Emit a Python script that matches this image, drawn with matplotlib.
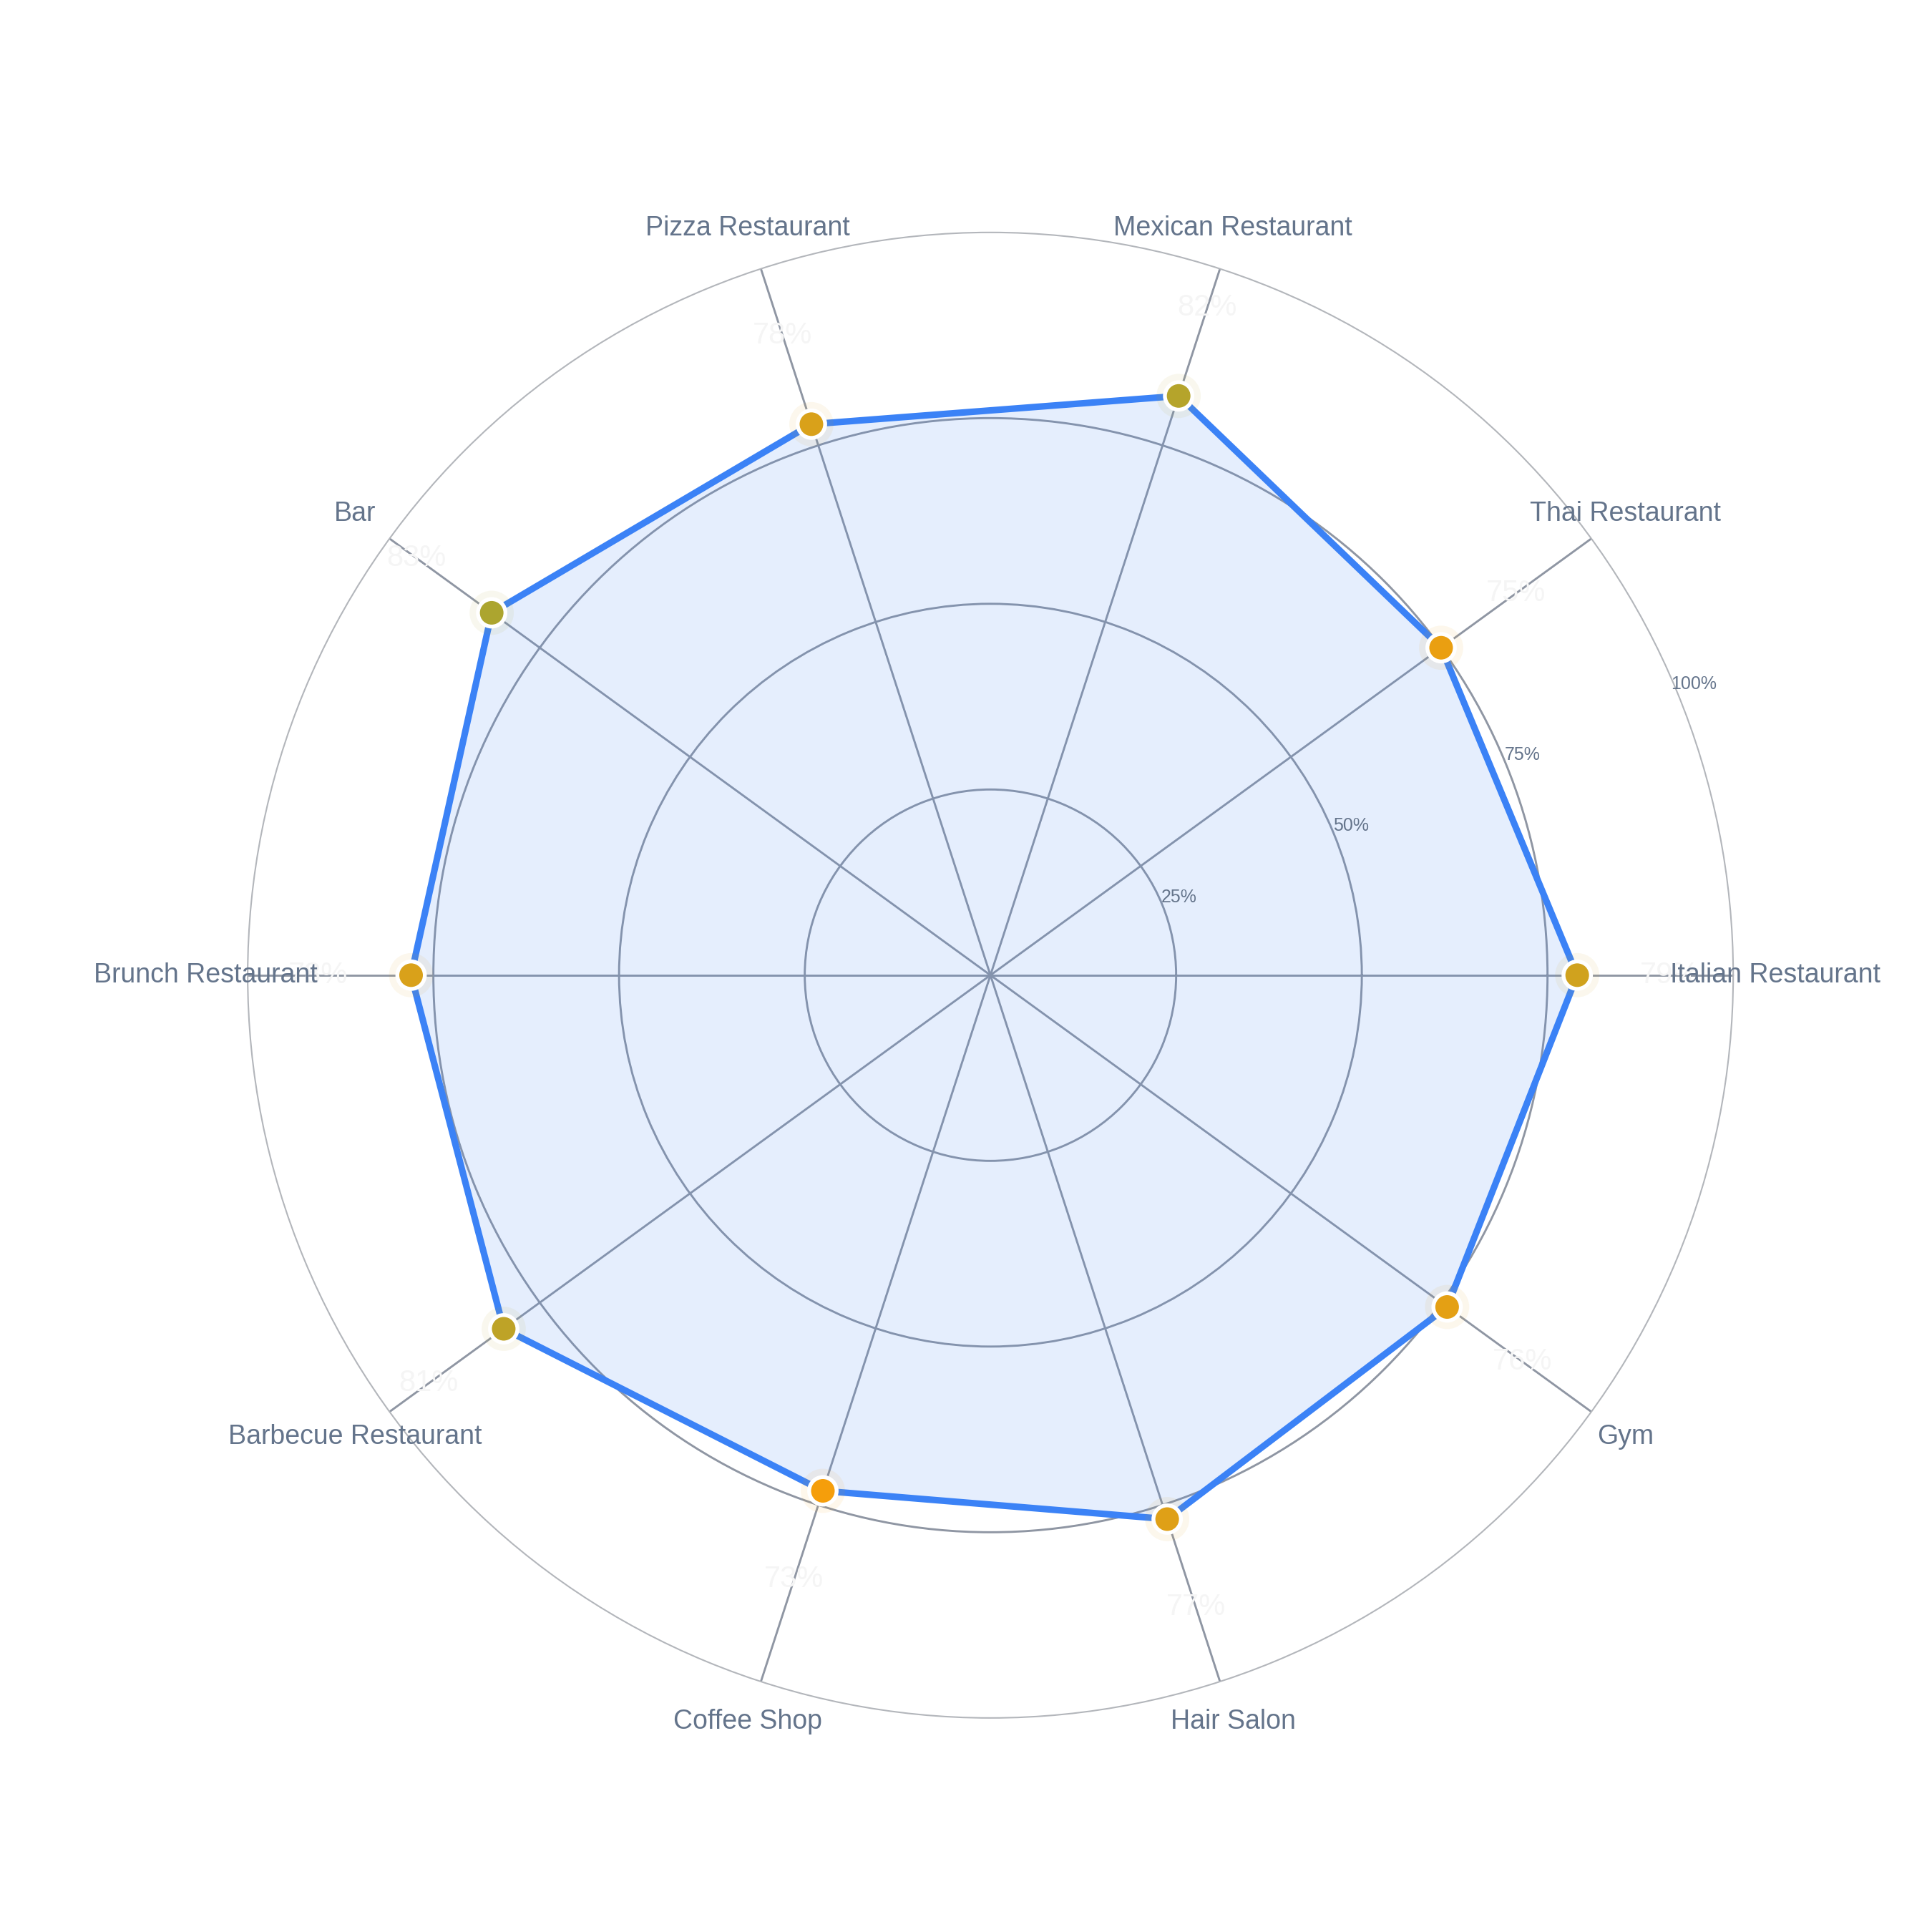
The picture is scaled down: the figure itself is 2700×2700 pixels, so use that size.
import numpy as np
import matplotlib
matplotlib.use("Agg")
import matplotlib.pyplot as plt
from matplotlib.colors import LinearSegmentedColormap, Normalize

plt.rcParams['font.family'] = ['Liberation Sans', 'DejaVu Sans']

# data
categories = ["Italian Restaurant", "Thai Restaurant", "Mexican Restaurant",
              "Pizza Restaurant", "Bar", "Brunch Restaurant",
              "Barbecue Restaurant", "Coffee Shop", "Hair Salon", "Gym"]
scores = [79, 75, 82, 78, 83, 78, 81, 73, 77, 76]
ring_ticks = [25, 50, 75, 100]

n = len(categories)
theta = np.linspace(0, 2 * np.pi, n, endpoint=False)
vals = np.array(scores, dtype=float)

fig = plt.figure(figsize=(9, 9), dpi=300)
fig.patch.set_facecolor("white")
ax = fig.add_axes([0.1282, 0.1108, 0.7689, 0.7689], projection="polar")
ax.set_facecolor("white")
ax.set_ylim(0, 100)
ax.set_theta_offset(0)
ax.set_theta_direction(1)

# grid
ax.set_xticks(theta)
ax.set_xticklabels([])
ax.set_yticks(ring_ticks[:-1])
ax.set_yticklabels([])
ax.grid(True, color="#8f96a3", linewidth=0.7)
ax.spines["polar"].set_color("#b3b6bb")
ax.spines["polar"].set_linewidth(0.5)
ax.tick_params(length=0)

# radial labels
for t in ring_ticks:
    ax.text(np.deg2rad(22.5), t + 2.5, f"{t}%", fontsize=6, color="#64748b",
            ha="center", va="center")

# polygon
tc = np.append(theta, theta[0])
vc = np.append(vals, vals[0])
ax.fill(tc, vc, color="#3b82f6", alpha=0.13, zorder=2, linewidth=0)
ax.plot(tc, vc, color="#3b82f6", linewidth=2.2, zorder=3, solid_joinstyle="miter")

# markers
cmap = LinearSegmentedColormap.from_list("amb", ["#f59e0b", "#d9a11a", "#aca52f"])
norm = Normalize(vmin=min(scores), vmax=max(scores))
colors = cmap(norm(vals))
ax.scatter(theta, vals, s=220, color=colors, alpha=0.08, linewidths=0, zorder=4)
ax.scatter(theta, vals, s=85, color=colors, edgecolors="white", linewidths=1.3, zorder=5)

# value labels (very faint)
for th, v in zip(theta, vals):
    ax.text(th, v + 12.5, f"{int(v)}%", fontsize=10, color="#f5f5f5",
            ha="center", va="center", zorder=6)

# category labels
for th, name in zip(theta, categories):
    ax.text(th, 105.7, name, fontsize=9, color="#64748b",
            ha="center", va="center", zorder=7)

fig.savefig("out.png", dpi=300, facecolor="white")
